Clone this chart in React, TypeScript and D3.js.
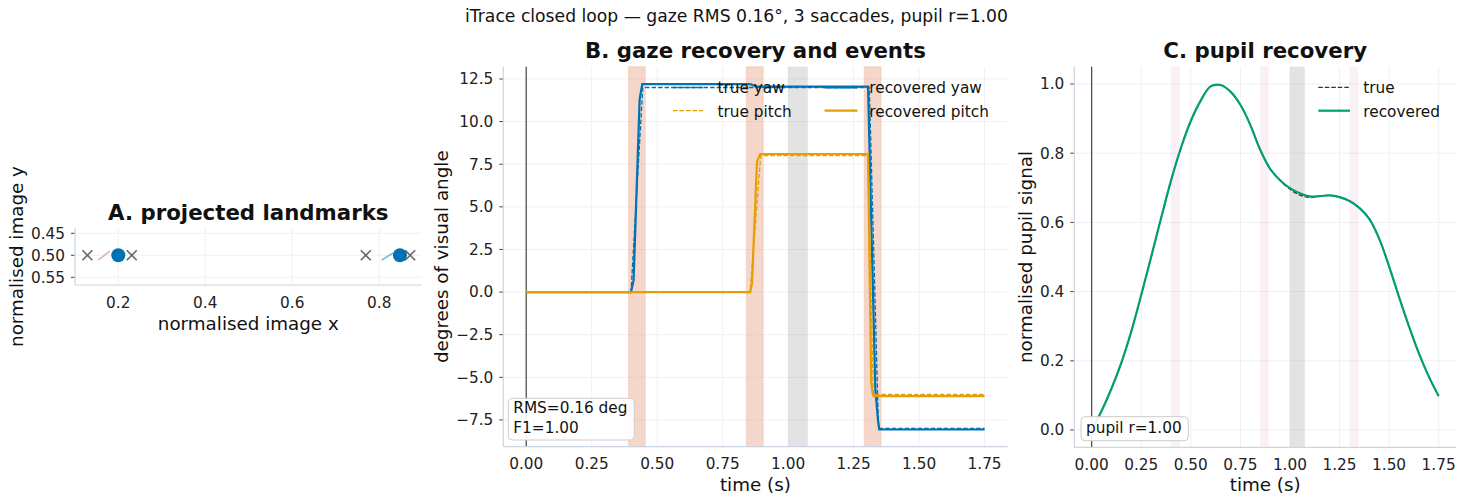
import React from "react";
import * as d3 from "d3";

const FONT = "DejaVu Sans";

// ---------- Panel A data ----------
const lmTrueX = [0.129, 0.231, 0.769, 0.871];
const lmTrueY = [0.5, 0.5, 0.5, 0.5];
const lmProjX = [0.2, 0.8475];
const lmProjY = [0.5, 0.5];
const trailPinkX = [0.154, 0.181];
const trailPinkY = [0.511, 0.49];
const trailBlueX = [0.8055, 0.832];
const trailBlueY = [0.511, 0.4945];
const aXTicks = [0.2, 0.4, 0.6, 0.8];
const aYTicks = [0.45, 0.5, 0.55];

// ---------- Panel B data ----------
const yawTrueT = [0, 0.4, 0.445, 1.31, 1.345, 1.75];
const yawTrueV = [0, 0, 12.0, 12.0, -8.0, -8.0];
const yawRecT = [0, 0.4, 0.41, 0.433, 0.443, 0.855, 0.88, 1.305, 1.333, 1.343, 1.348, 1.75];
const yawRecV = [0, 0, 0.7, 11.3, 12.2, 12.2, 12.05, 12.05, -5.75, -7.5, -8.06, -8.06];
const pitchTrueT = [0, 0.855, 0.895, 1.305, 1.325, 1.75];
const pitchTrueV = [0, 0, 8.0, 8.0, -6.0, -6.0];
const pitchRecT = [0, 0.855, 0.862, 0.881, 0.894, 1.305, 1.317, 1.322, 1.327, 1.75];
const pitchRecV = [0, 0, 0.5, 7.65, 8.1, 8.1, -5.2, -5.9, -6.1, -6.1];
const saccadeStartB = [0.39, 0.84, 1.29];
const saccadeEndB = [0.455, 0.905, 1.355];
const blinkStart = [1.0];
const blinkEnd = [1.075];
const bXTicks = [0, 0.25, 0.5, 0.75, 1.0, 1.25, 1.5, 1.75];
const bYTicks = [-7.5, -5, -2.5, 0, 2.5, 5, 7.5, 10, 12.5];

// ---------- Panel C data ----------
const pupilT = [0, 0.05, 0.1, 0.15, 0.2, 0.25, 0.3, 0.35, 0.4, 0.45, 0.5, 0.55, 0.6, 0.65, 0.7, 0.75, 0.8, 0.85, 0.9, 0.95, 1.0, 1.05, 1.1, 1.15, 1.2, 1.25, 1.3, 1.35, 1.4, 1.45, 1.5, 1.55, 1.6, 1.65, 1.7, 1.75];
const pupilRec = [0.0, 0.055, 0.12, 0.195, 0.285, 0.39, 0.5, 0.612, 0.72, 0.815, 0.893, 0.952, 0.993, 0.997, 0.978, 0.94, 0.882, 0.81, 0.755, 0.722, 0.699, 0.684, 0.675, 0.676, 0.678, 0.673, 0.662, 0.642, 0.61, 0.553, 0.473, 0.385, 0.3, 0.222, 0.155, 0.098];
const pupilTrue = [0.0, 0.055, 0.12, 0.195, 0.285, 0.39, 0.5, 0.612, 0.72, 0.815, 0.893, 0.952, 0.993, 0.997, 0.978, 0.94, 0.882, 0.81, 0.755, 0.722, 0.696, 0.679, 0.672, 0.676, 0.678, 0.673, 0.662, 0.642, 0.61, 0.553, 0.473, 0.385, 0.3, 0.222, 0.155, 0.098];
const saccadeStartC = [0.4, 0.85, 1.3];
const saccadeEndC = [0.445, 0.893, 1.345];
const cYTicks = [0, 0.2, 0.4, 0.6, 0.8, 1.0];

const BLUE = "#0072B2";
const ORANGE = "#E69F00";
const GREEN = "#009E73";
const SPINE = "#ccd5e2";
const GRID = "#eef0f5";
const TICKC = "#444";

const fmt = (v: number, d: number) => {
  const s = v.toFixed(d);
  return v < 0 ? "\u2212" + s.slice(1) : s;
};

function zip(t: number[], v: number[]) {
  return t.map((x, i) => [x, v[i]] as [number, number]);
}

function Axes({ x, y, xTicks, yTicks, xd, yd }: any) {
  const [x0, x1] = x.range();
  const [ya, yb] = y.range();
  const y0 = Math.min(ya, yb);
  const y1 = Math.max(ya, yb);
  return (
    <g>
      {xTicks.map((t: number, i: number) => (
        <line key={"gx" + i} x1={x(t)} x2={x(t)} y1={y0} y2={y1} stroke={GRID} strokeWidth={1} />
      ))}
      {yTicks.map((t: number, i: number) => (
        <line key={"gy" + i} x1={x0} x2={x1} y1={y(t)} y2={y(t)} stroke={GRID} strokeWidth={1} />
      ))}
      {yTicks.map((t: number, i: number) => (
        <g key={"ty" + i}>
          <line x1={x0 - 4} x2={x0} y1={y(t)} y2={y(t)} stroke={TICKC} strokeWidth={1} />
          <text x={x0 - 10} y={y(t)} dy="0.35em" textAnchor="end" fontSize={15.3} fontFamily={FONT} fill="#222">
            {fmt(t, yd)}
          </text>
        </g>
      ))}
      {xTicks.map((t: number, i: number) => (
        <text key={"tx" + i} x={x(t)} y={y1 + 22.5} textAnchor="middle" fontSize={15.3} fontFamily={FONT} fill="#222">
          {fmt(t, xd)}
        </text>
      ))}
    </g>
  );
}

function Spines({ x, y }: any) {
  const [x0, x1] = x.range();
  const [ya, yb] = y.range();
  const y0 = Math.min(ya, yb);
  const y1 = Math.max(ya, yb);
  return (
    <g>
      <line x1={x0} x2={x0} y1={y0} y2={y1} stroke={SPINE} strokeWidth={1.2} />
      <line x1={x0} x2={x1} y1={y1} y2={y1} stroke={SPINE} strokeWidth={1.2} />
    </g>
  );
}

export default function App() {
  // Panel A
  const ax = d3.scaleLinear().domain([0.1005, 0.8975]).range([75, 421.7]);
  const ay = d3.scaleLinear().domain([0.438, 0.5675]).range([228, 285]);
  // Panel B
  const bx = d3.scaleLinear().domain([-0.0875, 1.8375]).range([503.3, 1007.5]);
  const by = d3.scaleLinear().domain([-9.07, 13.22]).range([446.7, 66.7]);
  // Panel C
  const cx = d3.scaleLinear().domain([-0.0875, 1.8375]).range([1074.3, 1456]);
  const cy = d3.scaleLinear().domain([-0.05, 1.05]).range([447.3, 66.7]);

  const lineB = d3.line<[number, number]>().x((d) => bx(d[0])).y((d) => by(d[1]));
  const lineC = d3
    .line<[number, number]>()
    .x((d) => cx(d[0]))
    .y((d) => cy(d[1]))
    .curve(d3.curveCatmullRom.alpha(0.5));
  const lineA = d3.line<[number, number]>().x((d) => ax(d[0])).y((d) => ay(d[1]));

  const X = (px: number, py: number, k: number) => (
    <g key={k} stroke="#666" strokeWidth={1.6}>
      <line x1={px - 5} x2={px + 5} y1={py - 5} y2={py + 5} />
      <line x1={px - 5} x2={px + 5} y1={py + 5} y2={py - 5} />
    </g>
  );

  return (
    <svg
      width={1473}
      height={499}
      style={{ position: "absolute", left: 0, top: 0, background: "#fff" }}
      fontFamily={FONT}
    >
      <rect x={0} y={0} width={1473} height={499} fill="#fff" />
      <text x={736.5} y={22} textAnchor="middle" fontSize={17.2} fill="#111">
        iTrace closed loop — gaze RMS 0.16°, 3 saccades, pupil r=1.00
      </text>

      {/* ---------- Panel A ---------- */}
      <Axes x={ax} y={ay} xTicks={aXTicks} yTicks={aYTicks} xd={1} yd={2} />
      <path d={lineA(zip(trailPinkX, trailPinkY)) || ""} stroke="#CC79A7" strokeOpacity={0.6} strokeWidth={1.6} fill="none" />
      <path d={lineA(zip(trailBlueX, trailBlueY)) || ""} stroke="#56B4E9" strokeOpacity={0.9} strokeWidth={1.6} fill="none" />
      {lmTrueX.map((v, i) => X(ax(v), ay(lmTrueY[i]), i))}
      {lmProjX.map((v, i) => (
        <circle key={"p" + i} cx={ax(v)} cy={ay(lmProjY[i])} r={7} fill={BLUE} />
      ))}
      <Spines x={ax} y={ay} />
      <text x={248.3} y={220} textAnchor="middle" fontSize={21.3} fontWeight="bold" fill="#111">
        A. projected landmarks
      </text>
      <text x={248.3} y={330} textAnchor="middle" fontSize={18.3} fill="#111">
        normalised image x
      </text>
      <text
        transform={`translate(16,256.5) rotate(-90)`}
        textAnchor="middle"
        dominantBaseline="central"
        fontSize={18.3}
        fill="#111"
      >
        normalised image y
      </text>

      {/* ---------- Panel B ---------- */}
      <Axes x={bx} y={by} xTicks={bXTicks} yTicks={bYTicks} xd={2} yd={1} />
      {saccadeStartB.map((s, i) => (
        <rect
          key={"sb" + i}
          x={bx(s)}
          y={66.7}
          width={bx(saccadeEndB[i]) - bx(s)}
          height={380}
          fill="#e8a58a"
          fillOpacity={0.45}
          stroke="#f0b890"
          strokeOpacity={0.35}
          strokeWidth={1}
        />
      ))}
      {blinkStart.map((s, i) => (
        <rect key={"bb" + i} x={bx(s)} y={66.7} width={bx(blinkEnd[i]) - bx(s)} height={380} fill="#808080" fillOpacity={0.22} />
      ))}
      <line x1={bx(0)} x2={bx(0)} y1={66.7} y2={446.7} stroke="#444" strokeWidth={1.2} />
      <path d={lineB(zip(yawTrueT, yawTrueV)) || ""} stroke={BLUE} strokeWidth={1.3} strokeDasharray="4.5,2" fill="none" />
      <path d={lineB(zip(yawRecT, yawRecV)) || ""} stroke={BLUE} strokeWidth={2.2} fill="none" />
      <path d={lineB(zip(pitchTrueT, pitchTrueV)) || ""} stroke={ORANGE} strokeWidth={1.3} strokeDasharray="4.5,2" fill="none" />
      <path d={lineB(zip(pitchRecT, pitchRecV)) || ""} stroke={ORANGE} strokeWidth={2.2} fill="none" />
      <Spines x={bx} y={by} />
      {/* legend B */}
      <g fontSize={15.3} fill="#111">
        <line x1={673} x2={703} y1={87.5} y2={87.5} stroke={BLUE} strokeWidth={1.3} strokeDasharray="4.5,2" />
        <text x={717.5} y={93.3}>true yaw</text>
        <line x1={673} x2={703} y1={110.7} y2={110.7} stroke={ORANGE} strokeWidth={1.3} strokeDasharray="4.5,2" />
        <text x={717.5} y={116.7}>true pitch</text>
        <line x1={824.5} x2={857.5} y1={87.5} y2={87.5} stroke={BLUE} strokeWidth={2.2} />
        <text x={869.3} y={93.3}>recovered yaw</text>
        <line x1={824.5} x2={857.5} y1={110.7} y2={110.7} stroke={ORANGE} strokeWidth={2.2} />
        <text x={869.3} y={116.7}>recovered pitch</text>
      </g>
      <rect x={508.3} y={398.3} width={126} height={41.7} rx={4} fill="#fff" fillOpacity={0.9} stroke="#cccccc" strokeWidth={1} />
      <text x={513.3} y={413.3} fontSize={15.3} fill="#111">RMS=0.16 deg</text>
      <text x={513.3} y={432.7} fontSize={15.3} fill="#111">F1=1.00</text>
      <text x={755.4} y={58} textAnchor="middle" fontSize={21.3} fontWeight="bold" fill="#111">
        B. gaze recovery and events
      </text>
      <text x={755.4} y={491} textAnchor="middle" fontSize={18.3} fill="#111">
        time (s)
      </text>
      <text
        transform={`translate(441,256.7) rotate(-90)`}
        textAnchor="middle"
        dominantBaseline="central"
        fontSize={18.3}
        fill="#111"
      >
        degrees of visual angle
      </text>

      {/* ---------- Panel C ---------- */}
      <Axes x={cx} y={cy} xTicks={bXTicks} yTicks={cYTicks} xd={2} yd={1} />
      {saccadeStartC.map((s, i) => (
        <rect
          key={"sc" + i}
          x={cx(s)}
          y={66.7}
          width={cx(saccadeEndC[i]) - cx(s)}
          height={380.6}
          fill="#CC79A7"
          fillOpacity={0.1}
        />
      ))}
      {blinkStart.map((s, i) => (
        <rect key={"bc" + i} x={cx(s)} y={66.7} width={cx(blinkEnd[i]) - cx(s)} height={380.6} fill="#808080" fillOpacity={0.22} />
      ))}
      <line x1={cx(0)} x2={cx(0)} y1={66.7} y2={447.3} stroke="#444" strokeWidth={1.2} />
      <path d={lineC(zip(pupilT, pupilTrue)) || ""} stroke="#333" strokeWidth={1.3} strokeDasharray="4.5,2" fill="none" />
      <path d={lineC(zip(pupilT, pupilRec)) || ""} stroke={GREEN} strokeWidth={2.2} fill="none" />
      <Spines x={cx} y={cy} />
      <g fontSize={15.3} fill="#111">
        <line x1={1318.3} x2={1350} y1={87.3} y2={87.3} stroke="#333" strokeWidth={1.3} strokeDasharray="4.5,2" />
        <text x={1363.3} y={93.3}>true</text>
        <line x1={1318.3} x2={1350} y1={110.7} y2={110.7} stroke={GREEN} strokeWidth={2.2} />
        <text x={1363.3} y={116.7}>recovered</text>
      </g>
      <rect x={1081} y={416.7} width={107.3} height={24} rx={4} fill="#fff" fillOpacity={0.9} stroke="#cccccc" strokeWidth={1} />
      <text x={1086} y={433.3} fontSize={15.3} fill="#111">pupil r=1.00</text>
      <text x={1265.2} y={58} textAnchor="middle" fontSize={21.3} fontWeight="bold" fill="#111">
        C. pupil recovery
      </text>
      <text x={1265.2} y={491} textAnchor="middle" fontSize={18.3} fill="#111">
        time (s)
      </text>
      <text
        transform={`translate(1025,257) rotate(-90)`}
        textAnchor="middle"
        dominantBaseline="central"
        fontSize={18.3}
        fill="#111"
      >
        normalised pupil signal
      </text>
    </svg>
  );
}
